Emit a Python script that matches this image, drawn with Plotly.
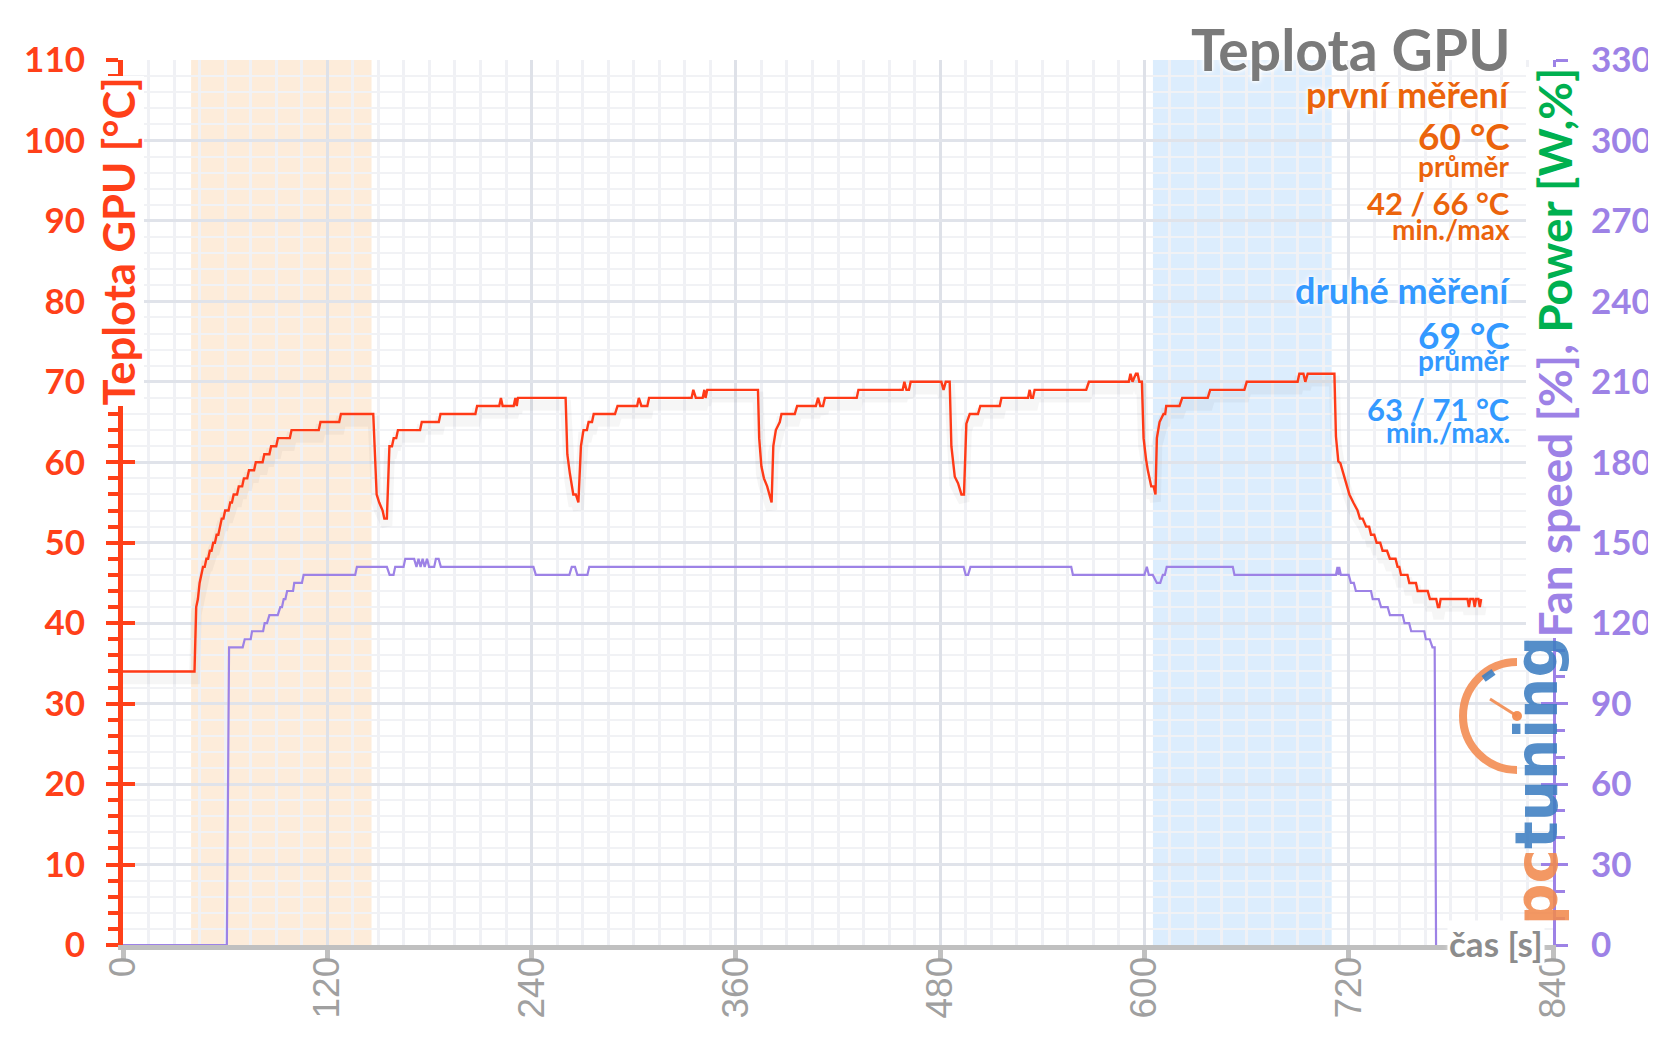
import plotly.graph_objects as go

# ---------------- data ----------------
temp_time = [0, 42, 43, 44, 45, 46, 47, 48, 49, 50, 51, 52, 53, 54, 55, 56, 57, 58, 59, 60,
             62, 63, 64, 65, 67, 68, 70, 71, 73, 74, 77, 78, 82, 83, 86, 87, 90, 91, 98, 99,
             115, 116, 127, 128, 147,
             148, 149, 150.5, 152.5, 153.5, 155, 156.5, 158, 159, 160.5, 161.5, 174.5, 175.5, 185.5,
             186.5, 207, 208, 221, 222, 223, 229.5, 230.5, 231.3, 232, 260,
             261, 262.5, 264.5, 266, 267.5, 269, 270.5, 272.5, 273.5, 275.5, 276.5, 289, 290.5, 302,
             303, 304.5, 308, 309, 334, 335, 336.5, 340.5, 341.5, 342.2, 343.2, 373,
             373.7, 375, 376.5, 378.4, 379.6, 381, 382, 383.5, 385.8, 386.8, 394.6, 396, 407, 408.3,
             409.6, 411.2, 412.3, 431, 432, 458, 459, 460.2, 461.7, 462.7, 480.7, 482, 483.3, 485.6,
             486.6, 488.6, 490.5, 492.5, 494, 495.4, 497.4, 502.2, 503.6, 515, 516, 531.6, 532.6, 533.5,
             534.5, 535.5, 565.8, 567.4, 590.8, 591.8, 593, 595, 596, 597, 598.5,
             599.5, 601, 602, 604, 605.4, 606.5, 607.3, 608.9, 610, 611.2, 612.2, 612.8, 620.6, 622.2,
             637.2, 638.6, 658.7, 660.1, 690, 691, 693.4, 694.5, 695.9, 711.6,
             712.5, 713.9, 715.1, 716.9, 718.4, 720.4, 722.7, 725.2, 726.6, 728.2, 730.2, 732, 733.1, 735,
             736.4, 738.5, 739.9, 742.5, 744.2, 747.5, 748.7, 749.7, 750.7, 754.5, 755.6, 759.5, 760.5,
             766.4, 767.7, 771.4, 772.4, 773.2, 774, 789.8, 790.6, 791.4, 793.2, 794, 794.8, 796.2, 797,
             797.8, 800]
temp_c = [34, 34, 42, 43, 45, 46, 47, 47, 48, 48, 49, 49, 50, 50, 51, 51, 52, 53, 53, 54,
          54, 55, 55, 56, 56, 57, 57, 58, 58, 59, 59, 60, 60, 61, 61, 62, 62, 63, 63, 64,
          64, 65, 65, 66, 66,
          60, 56, 55, 54, 53, 53, 62, 62, 63, 63, 64, 64, 65, 65,
          66, 66, 67, 67, 68, 67, 67, 68, 67, 68, 68,
          61, 58.6, 56, 56, 55, 62, 64, 64, 65, 65, 66, 66, 67, 67,
          68, 67, 67, 68, 68, 69, 68, 68, 69, 68, 69, 69,
          63, 59.5, 58, 57, 56, 55, 62, 64, 65, 66, 66, 67, 67, 68,
          67, 67, 68, 68, 69, 69, 70, 69, 69, 70, 70, 69, 70, 70,
          62, 58.2, 57.4, 56, 56, 64.8, 66, 66, 67, 67, 68, 68, 69, 68,
          68, 69, 69, 70, 70, 71, 70, 71, 71, 70, 70,
          63, 60.3, 59, 57, 57, 56, 63, 65, 65.5, 66, 66, 67, 67, 68,
          68, 69, 69, 70, 70, 71, 71, 70, 71, 71,
          63.2, 60.1, 59.9, 58.6, 57.4, 56, 55, 54, 53, 53, 52, 52, 51, 51,
          50, 50, 49, 49, 48, 48, 47, 47, 46, 46, 45, 45, 44,
          44, 43, 43, 42, 42, 43, 43, 42, 43, 43, 42, 43, 43,
          42, 43]

fan_time = [0, 61, 62.3, 70.3, 71.5, 75, 75.8, 82.3, 83.2, 84.6,
            86, 90.9, 92.4, 93.4, 94.4, 95.4, 96.4, 99.9, 100.6, 105.1,
            106.1, 136.4, 137.4, 155, 156.6, 158.9, 159.9, 164.8, 165.8, 171,
            172.4, 173.6, 174.8, 176, 177.2, 178.6, 179.8, 182.8, 183.8, 185.4,
            186.7, 241.1, 242.5, 262.2, 263.6, 265.5, 266.9, 272.8, 273.9, 493.8,
            495, 496.4, 497.8, 557, 558, 600, 601.4, 602.6, 604.9, 607.3,
            609.3, 610.8, 612, 613.1, 651.9, 652.9, 712.5, 713.4, 714, 714.4,
            715.4, 720, 721.3, 723, 724.2, 733.1, 734.1, 737.6, 739, 742.9,
            744.2, 751.7, 752.8, 755.5, 756.7, 764.4, 765.3, 767.6, 769.2, 770.5,
            771.3]
fan_pct = [0, 0, 37, 37, 38, 38, 39, 39, 40, 40,
           41, 41, 42, 42, 43, 43, 44, 44, 45, 45,
           46, 46, 47, 47, 46, 46, 47, 47, 48, 48,
           47, 48, 47, 48, 47, 48, 47, 47, 48, 48,
           47, 47, 46, 46, 47, 47, 46, 46, 47, 47,
           46, 46, 47, 47, 46, 46, 47, 46, 46, 45,
           45, 46, 46, 47, 47, 46, 46, 47, 46, 47,
           46, 46, 45, 45, 44, 44, 43, 43, 42, 42,
           41, 41, 40, 40, 39, 39, 38, 38, 37, 37,
           0]

first_run = [40, 146]      # shaded window, first measurement [s]
second_run = [605, 710]    # shaded window, second measurement [s]

x_ticks = [0, 120, 240, 360, 480, 600, 720, 840]
temp_ticks = [0, 10, 20, 30, 40, 50, 60, 70, 80, 90, 100, 110]
right_ticks = [0, 30, 60, 90, 120, 150, 180, 210, 240, 270, 300, 330]

title_text = "Teplota GPU"
first_lines = ["první měření", "60 °C", "průměr", "42 / 66 °C", "min./max"]
second_lines = ["druhé měření", "69 °C", "průměr", "63 / 71 °C", "min./max."]
left_title = "Teplota GPU [°C]"
fan_title = "Fan speed [%],"
power_title = " Power [W,%]"
x_title = "čas [s]"

# ---------------- style ----------------
RED = "#FF4019"
LINE_RED = "#FF3A17"
PURPLE = "#9D82E6"
GREEN = "#00B050"
ORANGE = "#EB640C"
BLUE = "#3399FF"
GRAY_T = "#7A7A7A"
FONT = "Lato, 'Open Sans', sans-serif"
HALO = "0px 0px 3px #ffffff, 0px 0px 4px #ffffff, 0px 0px 7px #ffffff"

# the page body adds an 8 px margin around the figure: compensate for it
OFF = 8
W, H = 1656 - OFF, 1043 - OFF
ML, MR, MT, MB = 123 - OFF, 103, 60 - OFF, 98
PW = W - ML - MR
PH = H - MT - MB


def fx(px):
    """page pixel x -> paper fraction"""
    return (px - OFF - ML) / PW


def fy(py):
    """page pixel y -> paper fraction"""
    return (OFF + MT + PH - py) / PH


fig = go.Figure()

# soft drop shadow under the temperature line
fig.add_trace(go.Scatter(x=temp_time, y=[v - 0.9 for v in temp_c], mode="lines",
                         line=dict(color="rgba(0,0,0,0.035)", width=11),
                         hoverinfo="skip", showlegend=False))
fig.add_trace(go.Scatter(x=fan_time, y=fan_pct, mode="lines",
                         line=dict(color=PURPLE, width=2.2), name="Fan speed",
                         showlegend=False))
fig.add_trace(go.Scatter(x=temp_time, y=temp_c, mode="lines",
                         line=dict(color=LINE_RED, width=2.4), name="Teplota GPU",
                         showlegend=False))
for ax in ["y2", "y3", "y4"]:
    fig.add_trace(go.Scatter(x=[None], y=[None], yaxis=ax, mode="lines",
                             showlegend=False, hoverinfo="skip"))

fig.update_layout(
    width=W, height=H,
    margin=dict(l=ML, r=MR, t=MT, b=MB, autoexpand=False),
    paper_bgcolor="white", plot_bgcolor="white",
    showlegend=False,
    xaxis=dict(
        range=[0, 840], tickvals=x_ticks, ticktext=[str(v) for v in x_ticks],
        tickangle=-90, ticks="outside", ticklen=10, tickwidth=5, tickcolor="#C0C0C0",
        tickfont=dict(family="'Liberation Sans', Arial, sans-serif", size=37, color="#A0A0A0"),
        ticklabelstandoff=-18, automargin=False,
        showline=True, linecolor="#C0C0C0", linewidth=5,
        showgrid=True, gridcolor="#DEE1E8", gridwidth=2.5,
        minor=dict(dtick=15, tick0=0, showgrid=True, gridcolor="#F0F1F5", gridwidth=2.5, ticks=""),
        zeroline=False, layer="below traces",
    ),
    yaxis=dict(
        range=[0, 110], tickvals=temp_ticks,
        ticks="outside", ticklen=12, tickwidth=4, tickcolor=RED,
        tickfont=dict(family=FONT, size=35, color=RED, weight=700),
        ticklabelstandoff=14, automargin=False,
        showline=True, linecolor=RED, linewidth=5,
        showgrid=True, gridcolor="#E0E3EA", gridwidth=2.5,
        minor=dict(dtick=2, tick0=0, ticks="outside", ticklen=10, tickwidth=4, tickcolor=RED,
                   showgrid=True, gridcolor="#F1F2F5", gridwidth=2),
        zeroline=False,
    ),
    yaxis2=dict(
        range=[0, 330], tickvals=right_ticks, overlaying="y", side="right", anchor="x",
        ticks="outside", ticklen=12, tickwidth=3, tickcolor=PURPLE,
        tickfont=dict(family=FONT, size=35, color=PURPLE, weight=700),
        ticklabelstandoff=16, automargin=False,
        showline=True, linecolor=PURPLE, linewidth=3,
        showgrid=False, zeroline=False,
        minor=dict(dtick=10, tick0=0, ticks="outside", ticklen=9, tickwidth=3, tickcolor=PURPLE,
                   showgrid=False),
    ),
    yaxis3=dict(
        range=[0, 110], tickvals=temp_ticks, overlaying="y", side="left", anchor="x",
        ticks="inside", ticklen=12, tickwidth=4, tickcolor=RED, automargin=False,
        showticklabels=False, showgrid=False, showline=False, zeroline=False,
    ),
    yaxis4=dict(
        range=[0, 330], tickvals=right_ticks, overlaying="y", side="right", anchor="x",
        ticks="inside", ticklen=12, tickwidth=3, tickcolor=PURPLE, automargin=False,
        showticklabels=False, showgrid=False, showline=False, zeroline=False,
    ),
)

# measurement windows
fig.add_shape(type="rect", xref="x", yref="paper", x0=first_run[0], x1=first_run[1], y0=0, y1=1,
              fillcolor="rgba(250,200,150,0.35)", line=dict(width=0), layer="between")
fig.add_shape(type="rect", xref="x", yref="paper", x0=second_run[0], x1=second_run[1], y0=0, y1=1,
              fillcolor="rgba(150,200,250,0.33)", line=dict(width=0), layer="between")

annotations = []
# title
annotations.append(dict(text=title_text, xref="paper", yref="paper", x=fx(1512), y=fy(48.5),
                        xanchor="right", yanchor="middle", showarrow=False,
                        font=dict(family=FONT, size=57, color=GRAY_T, weight=700, shadow=HALO)))
stat_rows = [
    (first_lines[0], 36, 94, ORANGE),
    (first_lines[1], 37, 135, ORANGE),
    (first_lines[2], 28, 166, ORANGE),
    (first_lines[3], 31, 203, ORANGE),
    (first_lines[4], 28, 229, ORANGE),
    (second_lines[0], 36, 290, BLUE),
    (second_lines[1], 37, 334.5, BLUE),
    (second_lines[2], 28, 360, BLUE),
    (second_lines[3], 31, 409, BLUE),
    (second_lines[4], 28, 432, BLUE),
]
for txt, size, yc, col in stat_rows:
    annotations.append(dict(text=txt, xref="paper", yref="paper", x=fx(1512), y=fy(yc),
                            xanchor="right", yanchor="middle", showarrow=False,
                            font=dict(family=FONT, size=size, color=col, weight=700, shadow=HALO)))

# axis titles
annotations.append(dict(text=left_title, xref="paper", yref="paper", x=fx(117), y=fy(241.5),
                        xanchor="center", yanchor="middle", textangle=-90, showarrow=False,
                        bgcolor="white", borderpad=0,
                        font=dict(family=FONT, size=43.5, color=RED, weight=700)))
annotations.append(dict(text=f"<span style='color:{PURPLE}'>{fan_title}</span>"
                             f"<span style='color:{GREEN}'>{power_title}</span>",
                        xref="paper", yref="paper", x=fx(1554), y=fy(352.5),
                        xanchor="center", yanchor="middle", textangle=-90, showarrow=False,
                        bgcolor="white", borderpad=0,
                        font=dict(family=FONT, size=46, color=PURPLE, weight=700)))
annotations.append(dict(text=x_title, xref="paper", yref="paper", x=fx(1545), y=fy(942.5),
                        xanchor="right", yanchor="middle", showarrow=False,
                        bgcolor="white", borderpad=1,
                        font=dict(family=FONT, size=35, color="#8C8C8C", weight=700, shadow=HALO)))

# pctuning watermark
annotations.append(dict(text="<span style='color:#F28A4E'>pc</span><span style='color:#3E7FC2'>tuning</span>",
                        xref="paper", yref="paper", x=fx(1537), y=fy(781),
                        xanchor="center", yanchor="middle", textangle=-90, showarrow=False,
                        opacity=0.88,
                        font=dict(family="'DejaVu Sans', sans-serif", size=58, weight=700)))
fig.update_layout(annotations=annotations)

# gauge of the watermark
gx, gy = fx(1517), fy(716)
fig.add_shape(type="path", xref="paper", yref="paper", xsizemode="pixel", ysizemode="pixel",
              xanchor=gx, yanchor=gy,
              path="M 0,54 C -29.8,54 -54,29.8 -54,0 C -54,-29.8 -29.8,-54 0,-54",
              line=dict(color="rgba(242,138,78,0.88)", width=8), layer="above")
fig.add_shape(type="line", xref="paper", yref="paper", xsizemode="pixel", ysizemode="pixel",
              xanchor=gx, yanchor=gy, x0=-23.5, y0=44.2, x1=-33.4, y1=37.1,
              line=dict(color="rgba(62,127,194,0.9)", width=7), layer="above")
fig.add_shape(type="line", xref="paper", yref="paper", xsizemode="pixel", ysizemode="pixel",
              xanchor=gx, yanchor=gy, x0=0, y0=0, x1=-27, y1=17,
              line=dict(color="rgba(242,138,78,0.9)", width=3), layer="above")
fig.add_shape(type="circle", xref="paper", yref="paper", xsizemode="pixel", ysizemode="pixel",
              xanchor=gx, yanchor=gy, x0=-5, y0=-5, x1=5, y1=5,
              fillcolor="rgba(242,138,78,0.95)", line=dict(width=0), layer="above")

fig.write_html("out.html")
